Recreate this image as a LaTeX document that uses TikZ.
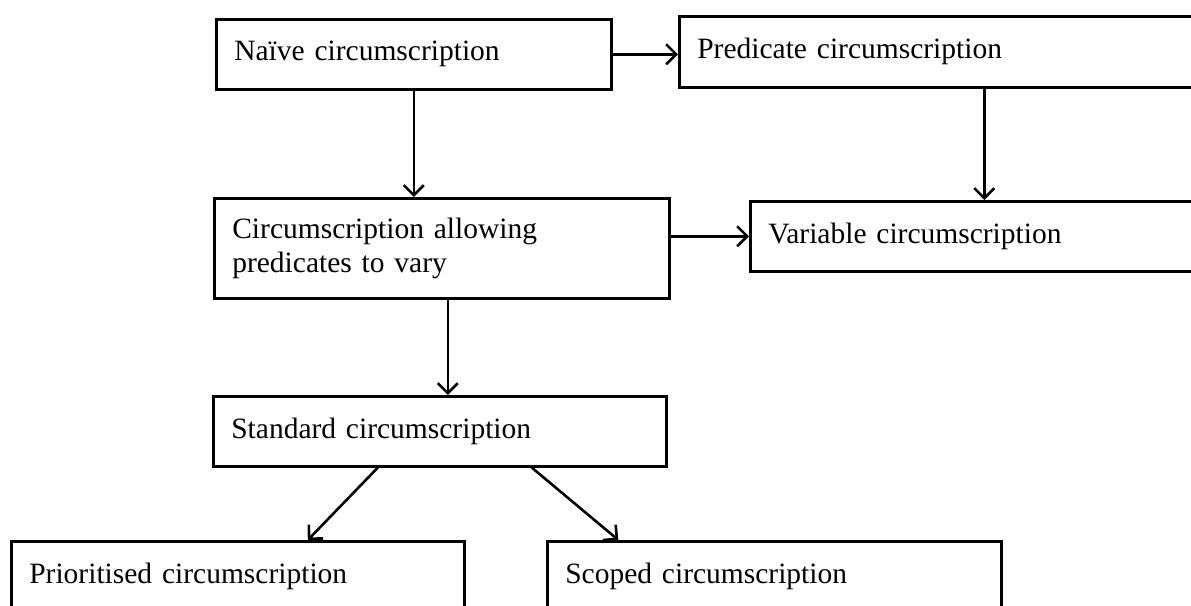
\documentclass[tikz,border=0pt]{standalone}
\usepackage{fontspec}
\setmainfont{Liberation Serif}
\usetikzlibrary{arrows.meta}

\tikzset{
    box/.style={draw, line width=2.6pt, anchor=north west, inner xsep=18pt, inner ysep=0pt, align=left},
    link/.style={line width=2.6pt, -{Straight Barb[length=10pt,width=20pt]}}
}

\begin{document}
\begin{tikzpicture}[x=1pt, y=-1pt, font=\fontsize{29.5}{34}\selectfont]
    \useasboundingbox (0,0) rectangle (1191,605);
    \clip (0,0) rectangle (1191,605);

    \foreach \name/\x/\y/\tw/\h/\text in {naive/215/18/359/70/{Naïve circumscription},
        pred/678/15/574/71/{Predicate circumscription},
        circ/213/197/419/100/{Circumscription allowing\\predicates to vary},
        var/749/200/520/70/{Variable circumscription},
        std/212/395/417/70/{Standard circumscription},
        prio/10/540/417/70/{Prioritised circumscription},
        scoped/546/540/418/70/{Scoped circumscription}}
    {
        \node[box, text width=\tw pt, minimum height=\h pt] (\name) at (\x,\y) {\text};
    }

    \draw[link] (naive.east) -- (naive.east -| pred.west);
    \draw[link] (naive.south) -- (naive.south |- circ.north);
    \draw[link] (pred.south) -- (pred.south |- var.north);
    \draw[link] (var.west -| circ.east) -- (var.west);
    \draw[link] ([xshift=6pt]circ.south) -- ([xshift=6pt]circ.south |- std.north);
    \draw[link] ([xshift=-62pt]std.south) -- ([xshift=70pt]prio.north);
    \draw[link] ([xshift=92pt]std.south) -- ([xshift=-156pt]scoped.north);
\end{tikzpicture}
\end{document}
